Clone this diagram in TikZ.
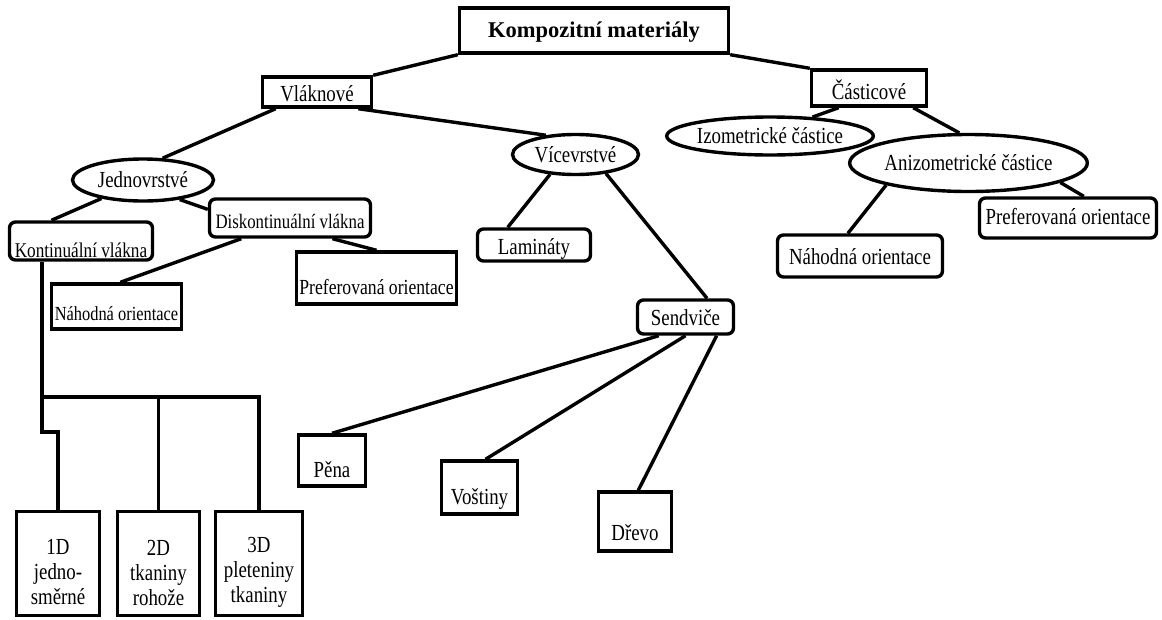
\documentclass[tikz,border=0pt]{standalone}
\usepackage{fontspec}
\setmainfont{Liberation Serif}[FakeStretch=0.82]
\newfontfamily\titlefont{Liberation Serif}
\usetikzlibrary{shapes.geometric}

\begin{document}
\begin{tikzpicture}[x=1pt,y=-1pt,line width=3.4pt,
    font=\fontsize{23}{25}\selectfont,
    box/.style={draw,rectangle,inner xsep=0pt,inner ysep=0pt},
    rbox/.style={box,rounded corners=6pt},
    oval/.style={draw,ellipse,inner sep=0pt},
    dimbox/.style={box,minimum width=#1,minimum height=104pt}]
  \useasboundingbox (0,0) rectangle (1162,619);

  % koren a prvni uroven
  \node[box,minimum width=269pt,text height=29pt,text depth=16pt]
    (komp) at (594,30.5) {\titlefont\fontsize{22.5}{26}\selectfont\bfseries Kompozitní materiály};
  \node[box,minimum width=109pt,text height=24pt,text depth=6pt] (vlak) at (317,92) {Vláknové};
  \node[box,minimum width=115pt,text height=29pt,text depth=7pt] (cast) at (869,88) {Částicové};

  % vlaknove
  \node[oval,minimum width=141pt,minimum height=42pt] (jedn) at (143,180) {Jednovrstvé};
  \node[oval,minimum width=126pt,minimum height=40pt] (vice) at (575.5,154.5) {Vícevrstvé};
  \node[rbox,minimum width=143pt,text height=35pt,text depth=3pt,
    font=\fontsize{21}{25}\selectfont] (kont) at (81,241) {Kontinuální vlákna};
  \node[rbox,minimum width=161pt,text height=29pt,text depth=9pt,
    font=\fontsize{20.5}{25}\selectfont] (disk) at (290,218) {Diskontinuální vlákna};
  \node[box,minimum width=130pt,text height=36pt,text depth=9pt,
    font=\fontsize{20}{25}\selectfont] (nahL) at (116.5,306.5) {Náhodná orientace};
  \node[box,minimum width=160pt,text height=42pt,text depth=10pt,
    font=\fontsize{21.5}{25}\selectfont] (prefL) at (376.5,278) {Preferovaná orientace};
  \node[rbox,minimum width=113pt,text height=25pt,text depth=7pt] (lam) at (534,245) {Lamináty};
  \node[rbox,minimum width=96pt,text height=25pt,text depth=9pt] (send) at (685.5,317) {Sendviče};
  \node[box,minimum width=67pt,text height=42pt,text depth=9pt] (pena) at (332,460.5) {Pěna};
  \node[box,minimum width=76pt,text height=43pt,text depth=10pt] (vost) at (479.5,487.5) {Voštiny};
  \node[box,minimum width=73pt,text height=48pt,text depth=11pt] (drevo) at (635,521.5) {Dřevo};

  % 1D / 2D / 3D
  \node[dimbox=83pt,label={[align=center,yshift=-9pt]center:{1D\\jedno-\\směrné}}] (d1) at (58,563.5) {};
  \node[dimbox=82pt,label={[align=center,yshift=-9pt]center:{2D\\tkaniny\\rohože}}] (d2) at (158.5,563.5) {};
  \node[dimbox=87pt,label={[align=center,yshift=-9pt]center:{3D\\pleteniny\\tkaniny}}] (d3) at (259,563.5) {};

  % casticove
  \node[oval,minimum width=193pt,minimum height=38pt] (izo) at (770,136) {Izometrické částice};
  \node[oval,minimum width=236pt,minimum height=57pt] (aniz) at (968.5,163) {Anizometrické částice};
  \node[rbox,minimum width=177pt,text height=26pt,text depth=14pt] (prefR) at (1068,218) {Preferovaná orientace};
  \node[rbox,minimum width=165pt,text height=29pt,text depth=13pt] (nahR) at (860,256) {Náhodná orientace};

  % spojnice
  \draw (komp.south west) -- (vlak.north east);
  \draw (komp.south east) -- (cast.north west);
  \draw (vlak.-158) -- (jedn.48);
  \draw (vlak.-22.6) -- (vice.147);
  \draw (jedn.-156.5) -- (kont.145.8);
  \draw (jedn.-28.4) -- (disk.174.5);
  \draw (disk.-157.2) -- (nahL.81);
  \draw (disk.-26) -- (prefL.north);
  \draw (vice.-142.5) -- (lam.146.3);
  \draw (vice.-32.6) -- (send.41.3);
  \draw (send.-145.2) -- (pena.north);
  \draw (send.south) -- (vost.78.3);
  \draw (send.-31.7) -- (drevo.84);
  \draw (cast.-147.3) -- (izo.24);
  \draw (cast.-24.2) -- (aniz.107);
  \draw (aniz.-165.5) -- (nahR.118.6);
  \draw (aniz.-12.8) -- (prefR.54.5);

  % vetveni kontinualnich vlaken
  \coordinate (hub) at (42,397);
  \coordinate (kink) at (42,432);
  \draw (hub |- kont.south) -- (hub) -- (hub -| d3.north) -- (d3.north);
  \draw (d2.north) -- (d2.north |- hub);
  \draw (hub) -- (kink) -- (kink -| d1.north) -- (d1.north);
\end{tikzpicture}
\end{document}
